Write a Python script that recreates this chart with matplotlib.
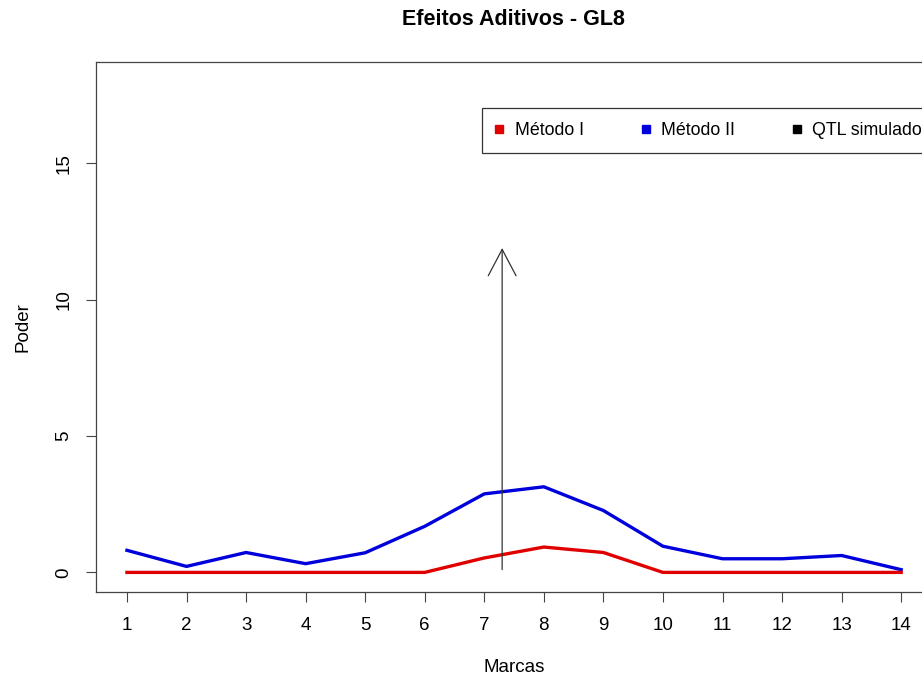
import matplotlib.pyplot as plt
from matplotlib.patches import FancyArrowPatch

plt.rcParams['font.family'] = ['Liberation Sans', 'DejaVu Sans']

# power per marker for both methods
marcas = list(range(1, 15))
metodo_1 = [0, 0, 0, 0, 0, 0, 0.53, 0.93, 0.73, 0, 0, 0, 0, 0]
metodo_2 = [0.81, 0.22, 0.73, 0.32, 0.72, 1.69, 2.88, 3.14, 2.27, 0.96, 0.50, 0.50, 0.62, 0.10]
# simulated QTL position and arrow height
qtl_pos = 7.3
qtl_topo = 12

fig = plt.figure(figsize=(9.22, 6.78), dpi=100)
ax = fig.add_axes([0.1041, 0.1268, 0.9069, 0.7817])

ax.plot(marcas, metodo_1, color='#e00000', lw=2.4, label='Método I', zorder=3)
ax.plot(marcas, metodo_2, color='#0000dd', lw=2.4, label='Método II', zorder=2)

seta = FancyArrowPatch((qtl_pos, 0), (qtl_pos, qtl_topo),
                       arrowstyle='->,head_length=1.9,head_width=1.0',
                       mutation_scale=10, lw=0.9, color='#333333', zorder=4)
ax.add_patch(seta)

ax.set_xlim(0.48, 14.52)
ax.set_ylim(-0.72, 18.72)
ax.set_xticks(marcas)
ax.set_yticks([0, 5, 10, 15])
ax.tick_params(direction='out', length=7, labelsize=13.5, color='#444444')
ax.tick_params(axis='x', pad=11)
ax.tick_params(axis='y', pad=10)
for lab in ax.get_yticklabels():
    lab.set_rotation(90)
    lab.set_va('center')
for s in ax.spines.values():
    s.set_color('#444444')
    s.set_linewidth(0.9)

ax.set_xlabel('Marcas', fontsize=13.5, labelpad=18)
ax.set_ylabel('Poder', fontsize=13.5, labelpad=17)
# title centred over the plotting region
fig.text(0.557, 0.971, 'Efeitos Aditivos - GL8', ha='center', va='center',
         fontsize=15.5, fontweight='bold')

# legend with square keys
h1, = ax.plot([], [], 's', color='#e00000', ms=5.5)
h2, = ax.plot([], [], 's', color='#0000dd', ms=5.5)
h3, = ax.plot([], [], 's', color='black', ms=5.5)
leg = ax.legend([h1, h2, h3], ['Método I', 'Método II', 'QTL simulado'],
                loc='upper left', bbox_to_anchor=(0.462, 0.913), ncol=3,
                borderaxespad=0, fontsize=12.8, handlelength=0.35,
                handletextpad=0.7, columnspacing=3.3, borderpad=0.78,
                fancybox=False, framealpha=1, edgecolor='#333333')
leg.get_frame().set_linewidth(0.9)

fig.savefig('out.png', dpi=100)
